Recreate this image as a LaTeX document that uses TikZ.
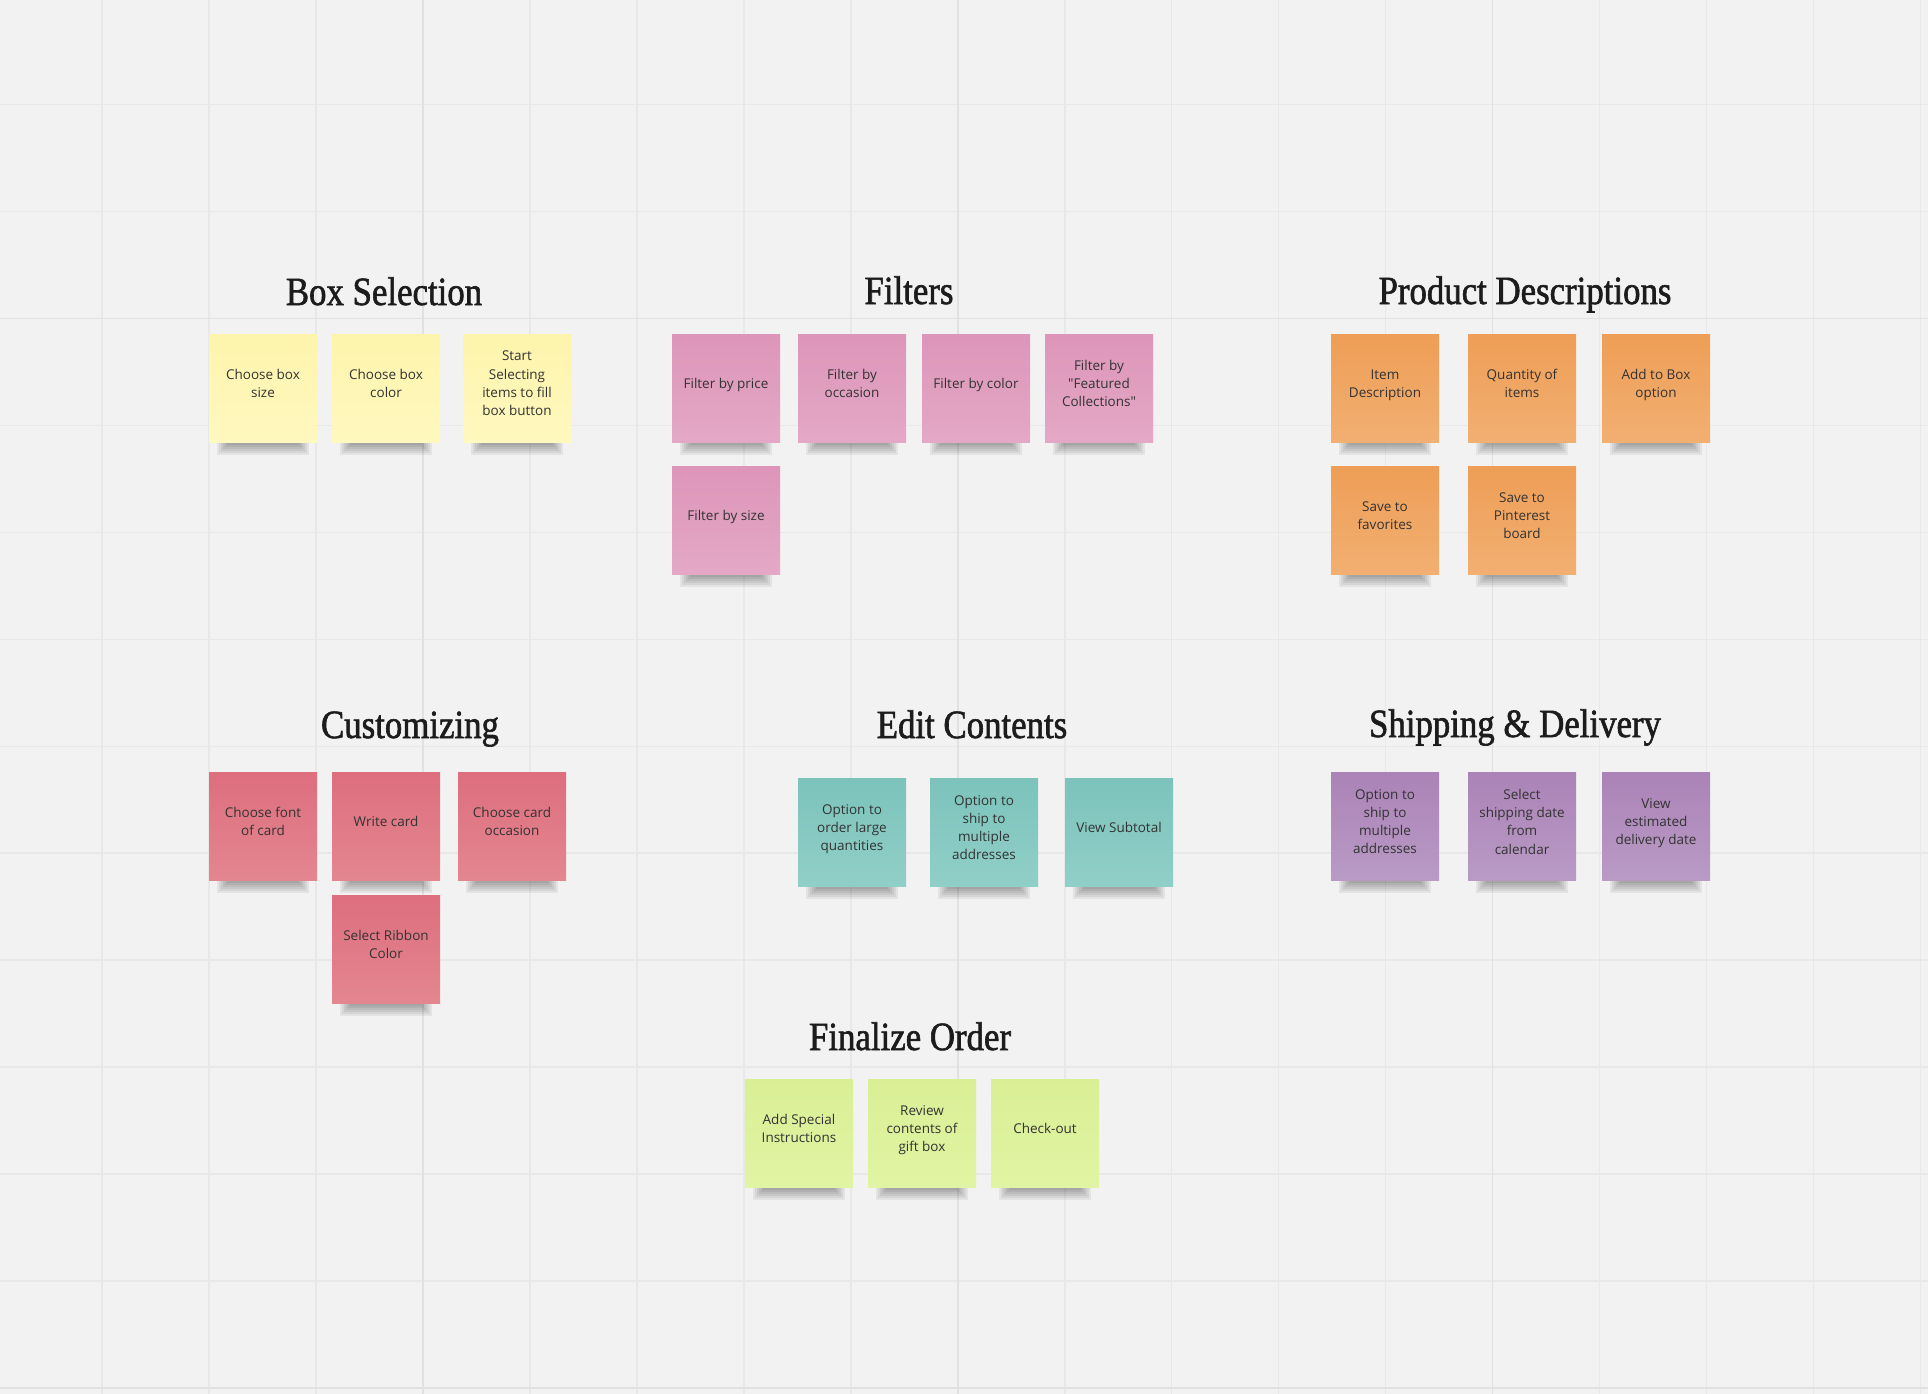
\documentclass[tikz,border=0pt]{standalone}
\usepackage{fontspec}
\setmainfont{Open Sans}
\newfontfamily\notefont{Open Sans}
\newfontfamily\headfont[FakeStretch=0.87,FakeBold=1.5]{Liberation Serif}

\definecolor{board}{HTML}{F2F2F2}
\definecolor{gridl}{HTML}{E8E8E8}
\definecolor{gridd}{HTML}{E1E1E1}
\definecolor{ink}{HTML}{333333}
\definecolor{headc}{HTML}{1C1C1C}
\definecolor{yelT}{HTML}{FDF4AC}
\definecolor{yelB}{HTML}{FFF8BF}
\definecolor{pinkT}{HTML}{DD95B9}
\definecolor{pinkB}{HTML}{E4A8C6}
\definecolor{oraT}{HTML}{EE9E56}
\definecolor{oraB}{HTML}{F2AF72}
\definecolor{redT}{HTML}{DD6E7E}
\definecolor{redB}{HTML}{E4868F}
\definecolor{tealT}{HTML}{7CC3BB}
\definecolor{tealB}{HTML}{90CFC8}
\definecolor{lilaT}{HTML}{AB83B7}
\definecolor{lilaB}{HTML}{B99AC5}
\definecolor{limeT}{HTML}{D9EF95}
\definecolor{limeB}{HTML}{E1F4A3}

\pgfdeclarelayer{grid}
\pgfdeclarelayer{shade}
\pgfsetlayers{grid,shade,main}

\begin{document}
\begin{tikzpicture}[x=1pt, y=-1pt,
    note/.style={rectangle, minimum size=108pt, inner sep=4pt, align=center,
      text depth=9pt, text=ink, font=\notefont\fontsize{13.5}{18.3}\selectfont},
    yel/.style={note, top color=yelT, bottom color=yelB},
    pink/.style={note, top color=pinkT, bottom color=pinkB},
    ora/.style={note, top color=oraT, bottom color=oraB},
    red/.style={note, top color=redT, bottom color=redB},
    teal/.style={note, top color=tealT, bottom color=tealB},
    lila/.style={note, top color=lilaT, bottom color=lilaB},
    lime/.style={note, top color=limeT, bottom color=limeB},
    head/.style={anchor=base, text=headc, font=\headfont\fontsize{40}{44}\selectfont}]

  \useasboundingbox (0,0) rectangle (1928,1394);

  \begin{pgfonlayer}{grid}
    \fill[board] (0,0) rectangle (1928,1394);
    \foreach \k in {-3,...,14}
      \draw[gridl, line width=1.6pt] ({423+106.95*\k},0) -- ({423+106.95*\k},1394);
    \foreach \k in {-2,...,10}
      \draw[gridl, line width=1.6pt] (0,{318.5+106.95*\k}) -- (1928,{318.5+106.95*\k});
    \foreach \k in {0,5,10}
      \draw[gridd, line width=1.8pt] ({423+106.95*\k},0) -- ({423+106.95*\k},1394);
    \foreach \k in {0,10}
      \draw[gridd, line width=1.8pt] (0,{318.5+106.95*\k}) -- (1928,{318.5+106.95*\k});
  \end{pgfonlayer}

  \node[head] (tbox)  at (384,305)  {Box Selection};
  \node[head] (tfilt) at (909,304)  {Filters};
  \node[head] (tprod) at (1525,304) {Product Descriptions};
  \node[head] (tcust) at (410,738)  {Customizing};
  \node[head] (tedit) at (972,738)  {Edit Contents};
  \node[head] (tship) at (1515,737) {Shipping \& Delivery};
  \node[head] (tfin)  at (910,1050) {Finalize Order};

  \node[yel] (bs1) at (263,388) {Choose box\\size};
  \node[yel] (bs2) at (386,388) {Choose box\\color};
  \node[yel] (bs3) at (517,388) {Start\\Selecting\\items to fill\\box button};

  \node[pink] (fl1) at (726,388)  {Filter by price};
  \node[pink] (fl2) at (852,388)  {Filter by\\occasion};
  \node[pink] (fl3) at (976,388)  {Filter by color};
  \node[pink] (fl4) at (1099,388) {Filter by\\"Featured\\Collections"};
  \node[pink] (fl5) at (726,520)  {Filter by size};

  \node[ora] (pd1) at (1385,388) {Item\\Description};
  \node[ora] (pd2) at (1522,388) {Quantity of\\items};
  \node[ora] (pd3) at (1656,388) {Add to Box\\option};
  \node[ora] (pd4) at (1385,520) {Save to\\favorites};
  \node[ora] (pd5) at (1522,520) {Save to\\Pinterest\\board};

  \node[red] (cu1) at (263,826) {Choose font\\of card};
  \node[red] (cu2) at (386,826) {Write card};
  \node[red] (cu3) at (512,826) {Choose card\\occasion};
  \node[red] (cu4) at (386,949) {Select Ribbon\\Color};

  \node[teal] (ec1) at (852,832)  {Option to\\order large\\quantities};
  \node[teal] (ec2) at (984,832)  {Option to\\ship to\\multiple\\addresses};
  \node[teal] (ec3) at (1119,832) {View Subtotal};

  \node[lila] (sd1) at (1385,826) {Option to\\ship to\\multiple\\addresses};
  \node[lila] (sd2) at (1522,826) {Select\\shipping date\\from\\calendar};
  \node[lila] (sd3) at (1656,826) {View\\estimated\\delivery date};

  \node[lime] (fo1) at (799,1133)  {Add Special\\Instructions};
  \node[lime] (fo2) at (922,1133)  {Review\\contents of\\gift box};
  \node[lime] (fo3) at (1045,1133) {Check-out};

  \begin{pgfonlayer}{shade}
    \foreach \n in {bs1,bs2,bs3,fl1,fl2,fl3,fl4,fl5,pd1,pd2,pd3,pd4,pd5,
                    cu1,cu2,cu3,cu4,ec1,ec2,ec3,sd1,sd2,sd3,fo1,fo2,fo3}
      \foreach \a/\b in {8/13,10/11,12/9,14/7,16/5,18/3}
        \fill[black, opacity=0.06] ([xshift=\a pt, yshift=2pt]\n.south west)
          rectangle ([xshift=-\a pt, yshift=-\b pt]\n.south east);
  \end{pgfonlayer}
\end{tikzpicture}
\end{document}
